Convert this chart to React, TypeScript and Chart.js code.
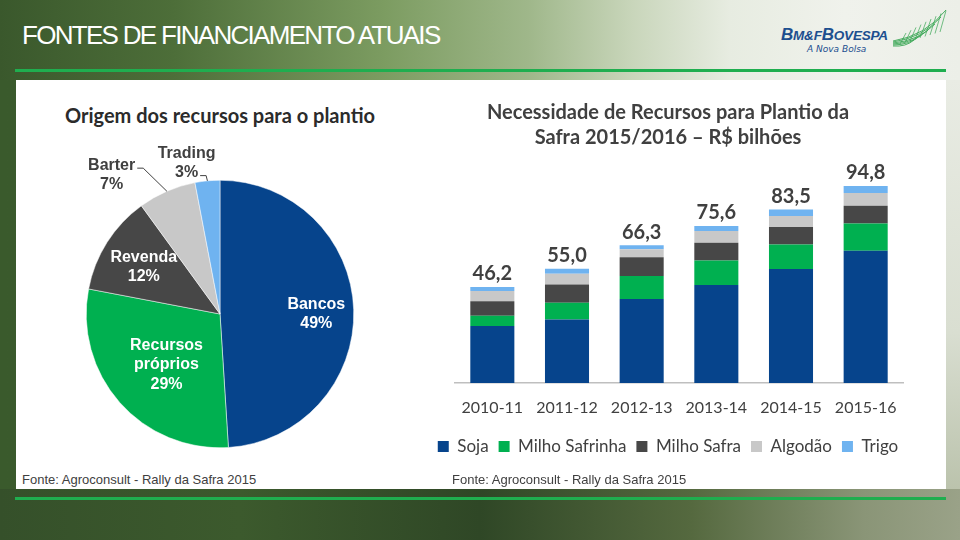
import React, { useEffect, useRef } from 'react';
import { Chart, registerables } from 'chart.js';

Chart.register(...registerables);

// ---------- data ----------
const seasons = ['2010-11', '2011-12', '2012-13', '2013-14', '2014-15', '2015-16'];
const soja = [27.4, 30.6, 40.4, 47.2, 54.9, 63.7];
const milhoSafrinha = [5.0, 8.0, 11.1, 11.7, 11.7, 13.1];
const milhoSafra = [6.9, 8.8, 9.0, 8.6, 8.5, 8.5];
const algodao = [5.0, 5.2, 3.9, 5.7, 5.3, 6.1];
const trigo = [1.9, 2.4, 1.9, 2.4, 3.1, 3.4];
const totals = [46.2, 55.0, 66.3, 75.6, 83.5, 94.8];
const seriesNames = ['Soja', 'Milho Safrinha', 'Milho Safra', 'Algodão', 'Trigo'];

const pieCategories = ['Bancos', 'Recursos próprios', 'Revenda', 'Barter', 'Trading'];
const pieShares = [49, 29, 12, 7, 3];

// ---------- styles ----------
const BLUE = '#06448c';
const GREEN = '#00b050';
const DARK = '#474747';
const LIGHT = '#c8c8c8';
const SKY = '#6fb3f0';
const seriesColors = [BLUE, GREEN, DARK, LIGHT, SKY];
const pieColors = [BLUE, GREEN, DARK, LIGHT, SKY];
const TEXT = '#404040';

// label placement relative to pie centre, in radius units
const pieLabelStyle = [
  { dx: 0.72, dy: 0.0, color: '#ffffff' },
  { dx: -0.40, dy: 0.38, color: '#ffffff' },
  { dx: -0.57, dy: -0.35, color: '#ffffff' },
  { dx: -0.81, dy: -1.04, color: TEXT, leaderLine: 0 },
  { dx: -0.25, dy: -1.13, color: TEXT, leaderLine: 1 },
];

const valueLabelPlugin = {
  id: 'valueLabels',
  afterDatasetsDraw(chart: any) {
    const ctx = chart.ctx;
    const yScale = chart.scales.y;
    const meta = chart.getDatasetMeta(chart.data.datasets.length - 1);
    ctx.save();
    ctx.font = 'bold 20px Lato';
    ctx.fillStyle = TEXT;
    ctx.textAlign = 'center';
    ctx.textBaseline = 'middle';
    totals.forEach((t, i) => {
      const x = meta.data[i].x;
      const y = yScale.getPixelForValue(t) - 13;
      ctx.fillText(t.toFixed(1).replace('.', ','), x, y);
    });
    ctx.restore();
  },
};

const pieLabelPlugin = {
  id: 'pieLabels',
  afterDatasetsDraw(chart: any) {
    const ctx = chart.ctx;
    const meta = chart.getDatasetMeta(0);
    const lh = 19.5;
    ctx.save();
    ctx.font = 'bold 16px "Liberation Sans", Arial, sans-serif';
    ctx.textAlign = 'center';
    ctx.textBaseline = 'middle';
    meta.data.forEach((arc: any, i: number) => {
      const p = arc.getProps(['x', 'y', 'outerRadius', 'startAngle', 'endAngle'], true);
      const st = pieLabelStyle[i];
      const lines = [...pieCategories[i].split(' '), pieShares[i] + '%'];
      const cx = p.x + st.dx * p.outerRadius;
      const cy = p.y + st.dy * p.outerRadius;
      const y0 = cy - ((lines.length - 1) * lh) / 2;
      ctx.fillStyle = st.color;
      lines.forEach((ln, k) => ctx.fillText(ln, cx, y0 + k * lh));
      if (st.leaderLine !== undefined) {
        const k = st.leaderLine;
        const w = ctx.measureText(lines[k]).width;
        const sx = cx + w / 2 + 2;
        const sy = y0 + k * lh + 3;
        const mid = (p.startAngle + p.endAngle) / 2;
        const ex = p.x + p.outerRadius * Math.cos(mid);
        const ey = p.y + p.outerRadius * Math.sin(mid);
        const elx = Math.min(sx + 6, ex);
        ctx.strokeStyle = TEXT;
        ctx.lineWidth = 1;
        ctx.beginPath();
        ctx.moveTo(sx, sy);
        ctx.lineTo(elx, sy);
        ctx.lineTo(ex, ey);
        ctx.stroke();
      }
    });
    ctx.restore();
  },
};

function BarChart() {
  const ref = useRef<HTMLCanvasElement>(null);
  useEffect(() => {
    const datasetsData = [soja, milhoSafrinha, milhoSafra, algodao, trigo];
    const chart = new Chart(ref.current as HTMLCanvasElement, {
      type: 'bar',
      data: {
        labels: seasons,
        datasets: seriesNames.map((n, i) => ({
          label: n,
          data: datasetsData[i],
          backgroundColor: seriesColors[i],
          borderWidth: 0,
          barPercentage: 0.59,
          categoryPercentage: 1,
        })),
      },
      options: {
        responsive: false,
        animation: false,
        layout: { padding: 0 },
        plugins: {
          title: {
            display: true,
            text: ['Necessidade de Recursos para Plantio da', 'Safra 2015/2016 – R$ bilhões'],
            font: { family: 'Lato', size: 20, weight: 'bold', lineHeight: 1.25 },
            color: TEXT,
            padding: { top: 10.5, bottom: 14.3 },
          },
          legend: {
            position: 'bottom',
            labels: {
              boxWidth: 11,
              boxHeight: 11,
              font: { family: 'Lato', size: 17 },
              color: TEXT,
              padding: 10,
            },
          },
          tooltip: { enabled: false },
        },
        scales: {
          x: {
            stacked: true,
            grid: { display: false, drawTicks: false },
            border: { display: true, color: '#bfbfbf', width: 1.5 },
            ticks: { font: { family: 'Lato', size: 16 }, color: TEXT, padding: 15, maxRotation: 0, autoSkip: false },
            afterFit: (s: any) => { s.height = 45; },
          },
          y: {
            stacked: true,
            min: 0,
            max: 105,
            grid: { display: false, drawTicks: false },
            border: { display: false },
            ticks: { display: false },
            afterFit: (s: any) => { s.width = 42; },
          },
          yRight: {
            position: 'right',
            grid: { display: false, drawTicks: false },
            border: { display: false },
            ticks: { display: false },
            afterFit: (s: any) => { s.width = 20; },
          },
        },
      } as any,
      plugins: [valueLabelPlugin],
    });
    return () => chart.destroy();
  }, []);
  return (
    <canvas ref={ref} width={510} height={375}
      style={{ position: 'absolute', left: 413, top: 90, width: 510, height: 375 }} />
  );
}

function PieChart() {
  const ref = useRef<HTMLCanvasElement>(null);
  useEffect(() => {
    const chart = new Chart(ref.current as HTMLCanvasElement, {
      type: 'pie',
      data: {
        labels: pieCategories,
        datasets: [{ data: pieShares, backgroundColor: pieColors, borderColor: '#ffffff', borderWidth: 0.5 }],
      },
      options: {
        responsive: false,
        animation: false,
        layout: { padding: { left: 66, top: 85, right: 66, bottom: 17 } },
        plugins: { legend: { display: false }, tooltip: { enabled: false } },
      } as any,
      plugins: [pieLabelPlugin],
    });
    return () => chart.destroy();
  }, []);
  return (
    <canvas ref={ref} width={400} height={370}
      style={{ position: 'absolute', left: 20, top: 95, width: 400, height: 370 }} />
  );
}

function Feather() {
  const paths = [
    'M893 41 Q925 36 946 10',
    'M893 42 Q922 38 941 17',
    'M893 43 Q918 41 935 24',
    'M893 44 Q914 43 928 30',
    'M893 45 Q910 45 921 35',
    'M893 46 Q906 47 914 40',
  ];
  const barbs = [];
  for (let i = 0; i < 9; i++) {
    const x = 900 + i * 5;
    barbs.push(`M${x} ${44 - i * 1.5} L${x + 6} ${33 - i * 2.8}`);
  }
  return (
    <svg width={960} height={80} style={{ position: 'absolute', left: 0, top: 0 }}>
      {paths.map((d, i) => <path key={i} d={d} stroke="#3aa655" strokeWidth={0.9} fill="none" />)}
      {barbs.map((d, i) => <path key={'b' + i} d={d} stroke="#3aa655" strokeWidth={0.7} fill="none" />)}
    </svg>
  );
}

export default function App() {
  const abs = (o: any): React.CSSProperties => ({ position: 'absolute', ...o });
  return (
    <div style={{ position: 'fixed', left: 0, top: 0, width: 960, height: 540, overflow: 'hidden',
      background: 'linear-gradient(90deg, #3a5a2c 0%, #3f602f 100%)', fontFamily: 'Lato' }}>
      {/* header band */}
      <div style={abs({ left: 0, top: 0, width: 960, height: 80,
        background: 'linear-gradient(90deg, #3a582c 0%, #4d6e39 18%, #7c9c61 40%, #9fb78a 55%, #c9d6bb 66%, #e7ece1 76%, #f0f2ec 88%, #ecefe8 100%)' })} />
      {/* right strip */}
      <div style={abs({ left: 946, top: 80, width: 14, height: 420,
        background: 'linear-gradient(180deg, #e9ece4 0%, #d9ded1 60%, #b9c1aa 100%)' })} />
      {/* footer band */}
      <div style={abs({ left: 0, top: 489, width: 960, height: 51,
        background: 'linear-gradient(90deg, #35502a 0%, #3c5a2d 25%, #2f4726 50%, #55693f 72%, #8a9577 90%, #9aa288 100%)' })} />
      {/* green lines */}
      <div style={abs({ left: 15, top: 69, width: 931, height: 3, background: '#1fae4f' })} />
      <div style={abs({ left: 15, top: 497, width: 931, height: 3, background: '#1fae4f' })} />
      {/* white panel */}
      <div style={abs({ left: 16, top: 80, width: 930, height: 409, background: '#ffffff' })} />

      {/* header title */}
      <div style={abs({ left: 22, top: 22, fontFamily: 'Arial, "Liberation Sans", sans-serif', fontSize: 26,
        lineHeight: '26px', letterSpacing: '-1.7px', color: '#ffffff', whiteSpace: 'nowrap' })}>
        FONTES DE FINANCIAMENTO ATUAIS
      </div>

      {/* logo */}
      <div style={abs({ left: 781, top: 26, fontFamily: '"Liberation Sans", Arial, sans-serif', fontWeight: 'bold',
        fontStyle: 'italic', color: '#1d4f8f', lineHeight: '18px', whiteSpace: 'nowrap', letterSpacing: '-0.2px' })}>
        <span style={{ fontSize: 17 }}>B</span><span style={{ fontSize: 13.5 }}>M&amp;F</span>
        <span style={{ fontSize: 17 }}>B</span><span style={{ fontSize: 13.5 }}>OVESPA</span>
      </div>
      <div style={abs({ left: 807, top: 44, fontFamily: '"DejaVu Sans", sans-serif', fontStyle: 'italic',
        fontSize: 9, lineHeight: '11px', color: '#1d4f8f', whiteSpace: 'nowrap' })}>A Nova Bolsa</div>
      <Feather />

      {/* pie title */}
      <div style={abs({ left: 65, top: 102, fontFamily: 'Lato', fontWeight: 'bold', fontSize: 20, lineHeight: '26px',
        color: '#2b2b2b', whiteSpace: 'nowrap' })}>Origem dos recursos para o plantio</div>

      <PieChart />
      <BarChart />

      <div style={abs({ left: 22, top: 472, fontFamily: 'Arial, "Liberation Sans", sans-serif', fontSize: 13,
        lineHeight: '15px', color: TEXT, whiteSpace: 'nowrap' })}>Fonte: Agroconsult - Rally da Safra 2015</div>
      <div style={abs({ left: 452, top: 472, fontFamily: 'Arial, "Liberation Sans", sans-serif', fontSize: 13,
        lineHeight: '15px', color: TEXT, whiteSpace: 'nowrap' })}>Fonte: Agroconsult - Rally da Safra 2015</div>
    </div>
  );
}
